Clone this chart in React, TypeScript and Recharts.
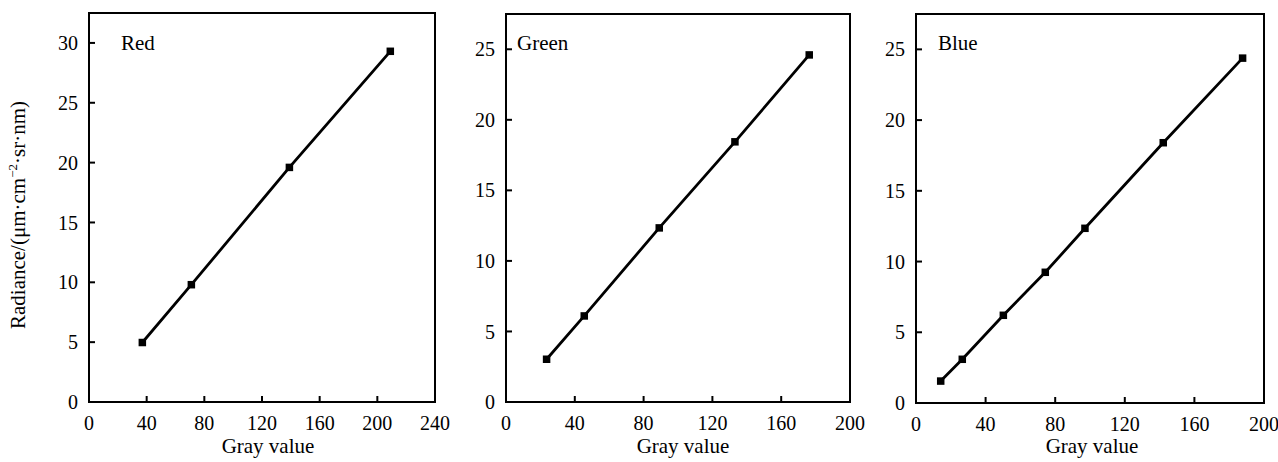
import { LineChart, Line, XAxis, YAxis, ReferenceArea, Label } from 'recharts';

const serif = 'Liberation Serif';

// gray value -> radiance
const redGray = [37, 71, 139, 209];
const redRadiance = [4.97, 9.8, 19.6, 29.3];
const greenGray = [23.6, 45.5, 89.1, 133.1, 176.3];
const greenRadiance = [3.03, 6.1, 12.34, 18.44, 24.6];
const blueGray = [14.2, 26.6, 50.2, 74.3, 97.1, 142.1, 187.7];
const blueRadiance = [1.55, 3.09, 6.2, 9.24, 12.35, 18.4, 24.38];

const redXTicks = [0, 40, 80, 120, 160, 200, 240];
const xTicks = [0, 40, 80, 120, 160, 200];
const redYTicks = [0, 5, 10, 15, 20, 25, 30];
const yTicks = [0, 5, 10, 15, 20, 25];

const SquareDot = (p: any) => (
  <rect key={p.index} x={p.cx - 3.75} y={p.cy - 3.75} width={7.5} height={7.5} fill="#000" />
);

const RadianceTitle = () => (
  <text
    transform="translate(25, 215) rotate(-90)"
    textAnchor="middle"
    style={{ fontFamily: serif, fontSize: 21 }}
    fill="#000"
  >
    Radiance/(μm·cm<tspan dy={-8} style={{ fontSize: 13 }}>−2</tspan>
    <tspan dy={8}>·sr·nm)</tspan>
  </text>
);

interface PanelProps {
  name: string;
  gray: number[];
  radiance: number[];
  xMax: number;
  yMax: number;
  xt: number[];
  yt: number[];
  left: number;
  width: number;
  yAxisWidth: number;
  marginRight: number;
  marginTop: number;
  xAxisHeight: number;
  nameDx: number;
  nameDy: number;
  titleDx: number;
  yTitle?: boolean;
}

function Panel(p: PanelProps) {
  const data = p.gray.map((g, i) => ({ gray: g, radiance: p.radiance[i] }));
  const axisStyle = { stroke: '#000', strokeWidth: 2 };
  const tickStyle = { fill: '#000', fontSize: 20, fontFamily: serif };
  return (
    <div style={{ position: 'absolute', left: p.left, top: 0 }}>
      <LineChart
        width={p.width}
        height={462}
        data={data}
        margin={{ top: p.marginTop, right: p.marginRight, left: 0, bottom: 0 }}
      >
        <XAxis
          dataKey="gray"
          type="number"
          domain={[0, p.xMax]}
          ticks={p.xt}
          height={p.xAxisHeight}
          axisLine={axisStyle}
          tickLine={axisStyle}
          tickSize={-6}
          tickMargin={20}
          tick={tickStyle}
          interval={0}
        >
          <Label
            content={({ viewBox }: any) => (
              <text
                x={viewBox.x + viewBox.width / 2 + p.titleDx}
                y={453}
                textAnchor="middle"
                style={{ fontFamily: serif, fontSize: 21 }}
                fill="#000"
              >
                Gray value
              </text>
            )}
          />
        </XAxis>
        <YAxis
          type="number"
          domain={[0, p.yMax]}
          ticks={p.yt}
          width={p.yAxisWidth}
          axisLine={axisStyle}
          tickLine={axisStyle}
          tickSize={-6}
          tickMargin={17}
          tick={tickStyle}
          interval={0}
        >
          {p.yTitle && <Label content={RadianceTitle} />}
        </YAxis>
        <ReferenceArea
          x1={0}
          x2={p.xMax}
          y1={0}
          y2={p.yMax}
          fill="none"
          fillOpacity={0}
          stroke="#000"
          strokeWidth={2}
        >
          <Label
            content={({ viewBox }: any) => (
              <text
                x={viewBox.x + p.nameDx}
                y={viewBox.y + p.nameDy}
                style={{ fontFamily: serif, fontSize: 21 }}
                fill="#000"
              >
                {p.name}
              </text>
            )}
          />
        </ReferenceArea>
        <Line
          type="linear"
          dataKey="radiance"
          stroke="#000"
          strokeWidth={2.8}
          dot={SquareDot}
          activeDot={false}
          isAnimationActive={false}
        />
      </LineChart>
    </div>
  );
}

export default function App() {
  return (
    <div
      style={{
        position: 'absolute',
        left: 0,
        top: 0,
        width: 1278,
        height: 462,
        background: '#fff',
        overflow: 'hidden',
      }}
    >
      <Panel
        name="Red"
        gray={redGray}
        radiance={redRadiance}
        xMax={240}
        yMax={32.5}
        xt={redXTicks}
        yt={redYTicks}
        left={0}
        width={460}
        yAxisWidth={89}
        marginRight={25}
        marginTop={13}
        xAxisHeight={60}
        nameDx={32}
        nameDy={37}
        titleDx={6}
        yTitle
      />
      <Panel
        name="Green"
        gray={greenGray}
        radiance={greenRadiance}
        xMax={200}
        yMax={27.5}
        xt={xTicks}
        yt={yTicks}
        left={440}
        width={435}
        yAxisWidth={66}
        marginRight={25}
        marginTop={14}
        xAxisHeight={60}
        nameDx={11}
        nameDy={36}
        titleDx={5}
      />
      <Panel
        name="Blue"
        gray={blueGray}
        radiance={blueRadiance}
        xMax={200}
        yMax={27.5}
        xt={xTicks}
        yt={yTicks}
        left={855}
        width={423}
        yAxisWidth={61}
        marginRight={14}
        marginTop={14}
        xAxisHeight={59}
        nameDx={22}
        nameDy={36}
        titleDx={2}
      />
    </div>
  );
}
